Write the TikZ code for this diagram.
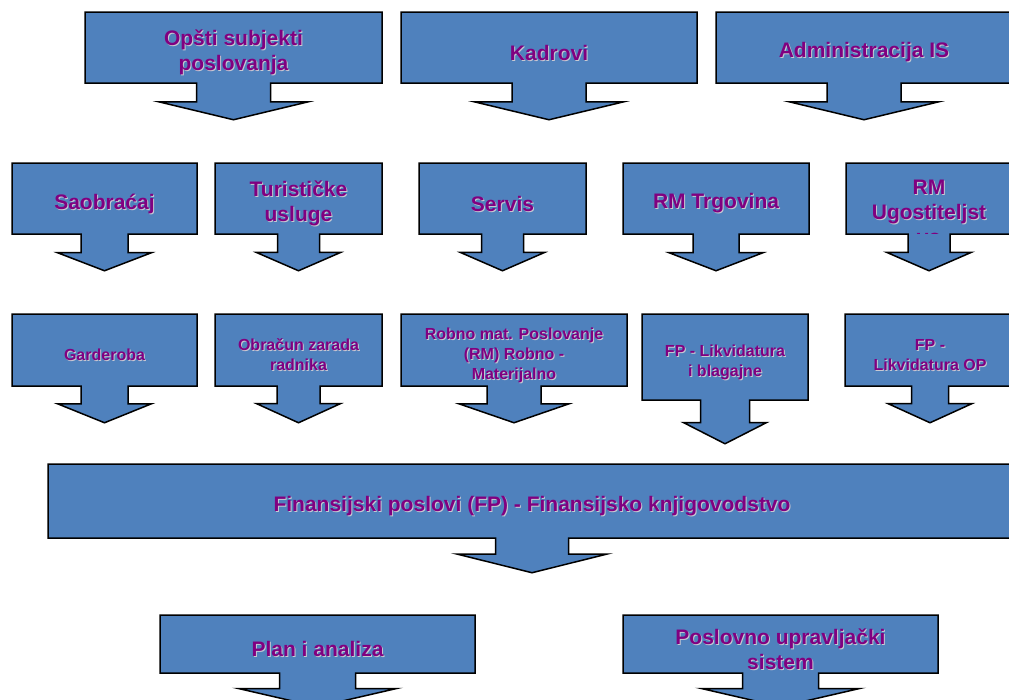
\documentclass[tikz,border=0pt]{standalone}
\usepackage{fontspec}
\setmainfont{Liberation Sans}
\usepackage{xcolor}
\definecolor{boxblue}{RGB}{79,129,189}
\definecolor{textpurple}{RGB}{128,0,128}
\definecolor{shadowgray}{RGB}{200,200,210}
\usepackage{tikz}
\usetikzlibrary{shapes.arrows,positioning}
\tikzset{
  flowbox/.style={arrow box,draw,line width=1.5pt,fill=boxblue,inner sep=0pt,
    arrow box arrows={south:36pt},arrow box head indent=0pt},
  headsize/.style n args={3}{arrow box shaft width=#1pt,arrow box head extend=#2pt,arrow box tip angle=#3},
  boxtext/.style={font=\bfseries\fontsize{21}{25}\selectfont,text=textpurple,align=center,inner sep=0pt,yshift=-5pt},
  boxshadow/.style={boxtext,text=shadowgray,xshift=1pt,yshift=-1pt},
  smallfont/.style={font=\bfseries\fontsize{16}{20}\selectfont},
  words/.style={label={[boxshadow]center:#1},label={[boxtext]center:#1}},
  smallwords/.style={label={[boxshadow,smallfont]center:#1},label={[boxtext,smallfont]center:#1}}
}

\begin{document}
\begin{tikzpicture}[x=1pt,y=1pt]
  \useasboundingbox (0,0) rectangle (1009,-699);

  % Top row
  \node[flowbox,headsize={74}{37.5}{153},minimum width=297pt,minimum height=71pt,words={Opšti subjekti\\poslovanja}] (subjekti) at (233.5,-47.5) {};
  \node[flowbox,headsize={74}{37.5}{153},minimum width=296pt,minimum height=71pt,words={Kadrovi}] (kadrovi) at (549,-47.5) {};
  \node[flowbox,headsize={74}{37.5}{153},minimum width=296pt,minimum height=71pt,words={Administracija IS}] (administracija) at (864,-47.5) {};

  % Second row
  \node[flowbox,headsize={47}{23.5}{138},minimum width=185pt,minimum height=71pt,words={Saobraćaj}] (saobracaj) at (104.5,-198.5) {};
  \node[flowbox,headsize={42}{21}{133},minimum width=167pt,minimum height=71pt,words={Turističke\\usluge}] (turisticke) at (298.5,-198.5) {};
  \node[flowbox,headsize={42}{21}{133},minimum width=167pt,minimum height=71pt,words={Servis}] (servis) at (502.5,-198.5) {};
  \node[flowbox,headsize={46}{24}{138},minimum width=186pt,minimum height=71pt,words={RM Trgovina}] (trgovina) at (716,-198.5) {};
  \node[flowbox,headsize={42}{21.5}{133},minimum width=166pt,minimum height=71pt] (ugostiteljstvo) at (929,-198.5) {};
  \begin{scope}
    \clip ([shift={(-82pt,34.5pt)}]ugostiteljstvo.center) rectangle ([shift={(82pt,-34.5pt)}]ugostiteljstvo.center);
    \node[boxshadow,yshift=-8.5pt] (ugoshadow) at (ugostiteljstvo.center) {RM\\Ugostiteljst\\vo};
    \node[boxtext,yshift=-8.5pt] (ugotext) at (ugostiteljstvo.center) {RM\\Ugostiteljst\\vo};
  \end{scope}

  % Third row
  \node[flowbox,headsize={47}{23.5}{136},minimum width=185pt,minimum height=72pt,smallwords={Garderoba}] (garderoba) at (104.5,-350) {};
  \node[flowbox,headsize={43}{20.5}{131},minimum width=167pt,minimum height=72pt,smallwords={Obračun zarada\\radnika}] (obracun) at (298.5,-350) {};
  \node[flowbox,headsize={54}{28}{142},minimum width=226pt,minimum height=72pt,smallwords={Robno mat. Poslovanje\\(RM) Robno -\\Materijalno}] (robno) at (514,-350) {};
  \node[flowbox,headsize={49}{17}{126},arrow box arrows={south:43pt},minimum width=166pt,minimum height=86pt,smallwords={FP - Likvidatura\\i blagajne}] (blagajne) at (725,-357) {};
  \node[flowbox,headsize={37}{23.5}{131},minimum width=170pt,minimum height=72pt,smallwords={FP -\\Likvidatura OP}] (likvidaturaop) at (930,-350) {};

  % Financial accounting
  \node[flowbox,headsize={73}{38.5}{152},arrow box arrows={south:34pt},minimum width=968pt,minimum height=74pt,words={Finansijski poslovi (FP) - Finansijsko knjigovodstvo}] (finansije) at (532,-501) {};

  % Bottom row
  \node[flowbox,headsize={76}{41}{154},arrow box arrows={south:33pt},minimum width=315pt,minimum height=58pt,words={Plan i analiza}] (plan) at (317.5,-644) {};
  \node[flowbox,headsize={76}{41}{154},arrow box arrows={south:33pt},minimum width=315pt,minimum height=58pt,words={Poslovno upravljački\\sistem}] (upravljanje) at (780.5,-644) {};
\end{tikzpicture}
\end{document}
